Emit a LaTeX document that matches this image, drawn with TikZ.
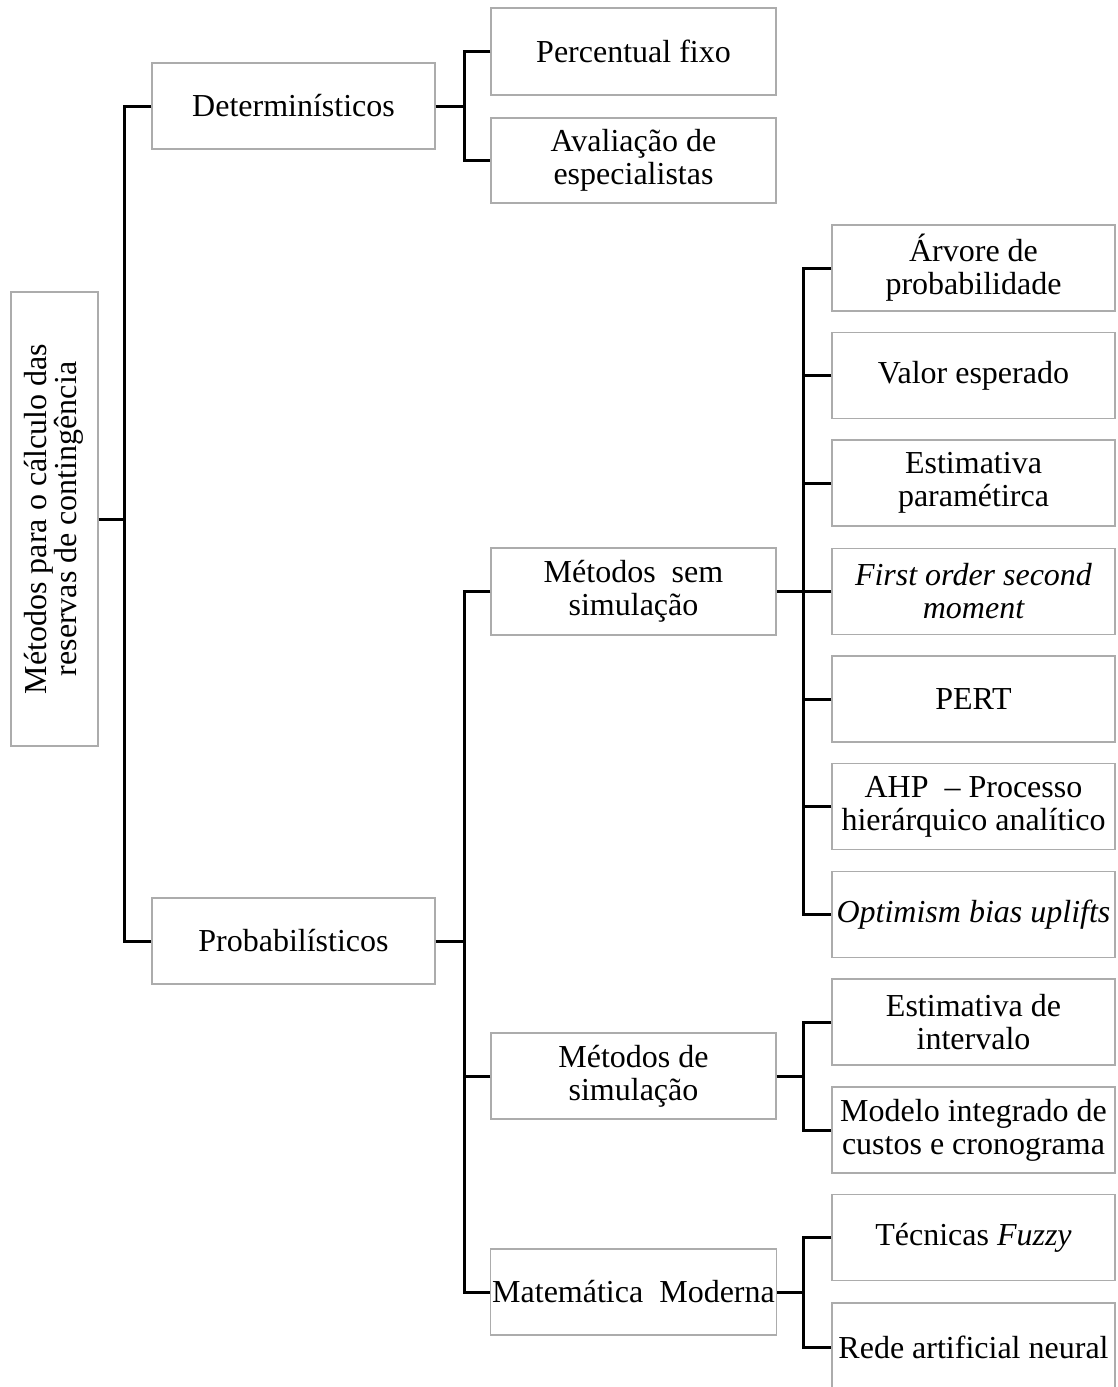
\documentclass[tikz,border=0pt]{standalone}
\usepackage{fontspec}
\setmainfont{Liberation Serif}
\begin{document}
\begin{tikzpicture}[x=1pt,y=-1pt,
  box/.style={draw=gray!65, line width=1.3pt, fill=white, align=center,
    inner sep=2pt, text=black,
    font=\fontsize{32}{33}\selectfont},
  midbox/.style={box, minimum width=283pt, minimum height=86pt},
  leafbox/.style={box, minimum width=283pt, minimum height=86pt},
  conn/.style={line width=3pt, black}]
\clip (0,0) rectangle (1118,1387);
\fill[white] (0,0) rectangle (1118,1387);

% junction columns
\coordinate (j0) at (124,0);
\coordinate (j1) at (464,0);
\coordinate (j2) at (803,0);

% root
\node[box, minimum width=87pt, minimum height=454pt] (root) at (54.5,519)
  {\rotatebox{90}{\begin{tabular}{@{}c@{}}Métodos para o cálculo das\\[-3pt]reservas de contingência\end{tabular}}};

% first level
\node[midbox] (det)  at (293.5,106) {Determinísticos};
\node[midbox] (prob) at (293.5,941) {Probabilísticos};

% deterministic methods
\node[midbox, minimum width=285pt, minimum height=87pt] (pf)   at (633.5,51.5) {Percentual fixo};
\node[midbox, minimum width=285pt, minimum height=85pt] (aval) at (633.5,160.5) {Avaliação de\\especialistas};

% probabilistic groups
\node[midbox, minimum width=285pt, minimum height=87pt] (msem) at (633.5,591.5) {Métodos~~sem\\simulação};
\node[midbox, minimum width=285pt] (msim) at (633.5,1076) {Métodos de\\simulação};
\node[midbox, minimum width=285pt] (mat)  at (633.5,1292) {Matemática~~Moderna};

% leaves
\node[leafbox] (arv)  at (973.5,268) {Árvore de\\probabilidade};
\node[leafbox] (val)  at (973.5,375.5) {Valor esperado};
\node[leafbox] (est)  at (973.5,483) {Estimativa\\paramétirca};
\node[leafbox] (fo)   at (973.5,591.5) {\itshape First order second\\\itshape moment};
\node[leafbox] (pert) at (973.5,699) {PERT};
\node[leafbox] (ahp)  at (973.5,806.5) {AHP~~– Processo\\hierárquico analítico};
\node[leafbox] (opt)  at (973.5,914.5) {\itshape Optimism bias uplifts};
\node[leafbox] (ei)   at (973.5,1022) {Estimativa de\\intervalo};
\node[leafbox] (mi)   at (973.5,1130) {Modelo integrado de\\custos e cronograma};
\node[leafbox] (fz)   at (973.5,1237.5) {Técnicas \textit{Fuzzy}};
\node[leafbox, minimum height=88pt] (rn) at (973.5,1347) {Rede artificial neural};

% root bracket
\draw[conn] (root.east) -- (root.east -| j0);
\draw[conn] (det.west) -- (det.west -| j0) -- (prob.west -| j0) -- (prob.west);

% deterministic bracket
\draw[conn] (det.east) -- (det.east -| j1);
\draw[conn] (pf.west) -- (pf.west -| j1) -- (aval.west -| j1) -- (aval.west);

% probabilistic bracket
\draw[conn] (prob.east) -- (prob.east -| j1);
\draw[conn] (msem.west) -- (msem.west -| j1) -- (mat.west -| j1) -- (mat.west);
\draw[conn] (msim.west) -- (msim.west -| j1);

% without simulation
\draw[conn] (msem.east) -- (msem.east -| j2);
\draw[conn] (arv.west) -- (arv.west -| j2) -- (opt.west -| j2) -- (opt.west);
\foreach \n in {val,est,fo,pert,ahp}
  \draw[conn] (\n.west) -- (\n.west -| j2);

% simulation
\draw[conn] (msim.east) -- (msim.east -| j2);
\draw[conn] (ei.west) -- (ei.west -| j2) -- (mi.west -| j2) -- (mi.west);

% modern mathematics
\draw[conn] (mat.east) -- (mat.east -| j2);
\draw[conn] (fz.west) -- (fz.west -| j2) -- (rn.west -| j2) -- (rn.west);
\end{tikzpicture}
\end{document}
